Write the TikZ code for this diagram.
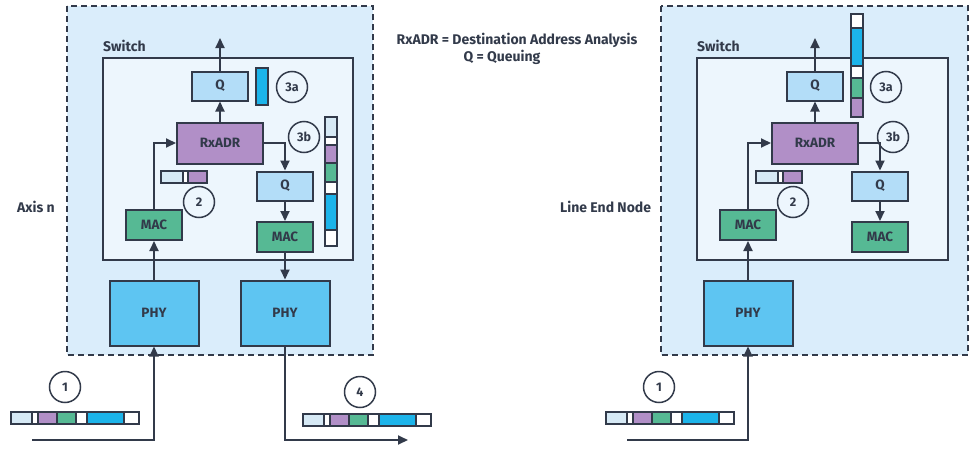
\documentclass[tikz,border=0pt]{standalone}
\usepackage{fontspec}
\setmainfont{Fira Sans}
\usetikzlibrary{arrows.meta}

\definecolor{edge}{HTML}{323A4A}
\definecolor{panel}{HTML}{DAEDFB}
\definecolor{switchbg}{HTML}{EDF6FD}
\definecolor{qcol}{HTML}{B3DDF8}
\definecolor{rxcol}{HTML}{B18FC7}
\definecolor{maccol}{HTML}{56B994}
\definecolor{phycol}{HTML}{5EC5F2}
\definecolor{pkblue}{HTML}{1CB4EA}
\definecolor{pklight}{HTML}{D6E9F5}

\tikzset{
	blk/.style={draw=edge, line width=2pt, inner sep=0pt, font=\fontsize{13.5}{15}\selectfont\bfseries, text=edge},
	qbox/.style={blk, fill=qcol, minimum width=56pt, minimum height=29pt},
	rxbox/.style={blk, fill=rxcol, minimum width=86pt, minimum height=41pt},
	macbox/.style={blk, fill=maccol, minimum width=56pt, minimum height=30pt},
	phybox/.style={blk, fill=phycol, minimum width=89pt, minimum height=65pt},
	num/.style={circle, draw=edge, line width=1.5pt, minimum size=31pt, inner sep=0pt, font=\fontsize{12.5}{14}\selectfont\bfseries, text=edge},
	lbl/.style={font=\fontsize{14}{16}\selectfont\bfseries, text=edge, inner sep=0pt},
	flow/.style={draw=edge, line width=2pt, -{Triangle[length=10pt,width=9pt]}},
	pkseg/.style={draw=edge, line width=1.4pt},
	panelbox/.style={draw=edge, fill=panel, line width=2pt, dash pattern=on 6pt off 4pt},
	switchbox/.style={draw=edge, fill=switchbg, line width=2pt}
}

% packet lying flat, #1 = top left corner
\newcommand\hpacket[1]{%
	\begin{scope}[shift={#1}]
		\foreach \a/\b/\c in {0/21/pklight,21/27/white,27/46/rxcol,46/65/maccol,65/76/white,76/113/pkblue,113/128/white}
			\draw[pkseg, fill=\c] (\a,0) rectangle (\b,12);
	\end{scope}}

\begin{document}
\begin{tikzpicture}[x=1pt, y=-1pt]
	%%%%% START %%%%%
	\useasboundingbox (0,0) rectangle (980,450);
	
	\node[lbl] (legrx) at (517,40) {RxADR = Destination Address Analysis};
	\node[lbl] (legq) at (502,57) {Q = Queuing};
	
	%%%%% Axis n %%%%%
	\draw[panelbox] (67,6) rectangle (373,355);
	\draw[switchbox] (103,58) rectangle (353,260);
	\node[lbl, anchor=south west] (lswitch) at (103,52) {Switch};
	\node[lbl, anchor=west] (laxis) at (17,207) {Axis n};
	
	\node[qbox] (lq1) at (220,86) {Q};
	\node[rxbox] (lrx) at (220,143) {RxADR};
	\node[qbox] (lq2) at (285,186) {Q};
	\node[macbox] (lmac1) at (154,225) {MAC};
	\node[macbox] (lmac2) at (285,237) {MAC};
	\node[phybox] (lphy1) at (154,313) {PHY};
	\node[phybox] (lphy2) at (285,313) {PHY};
	
	\node[num] (l3a) at (292,87) {3a};
	\node[num] (l3b) at (304,137) {3b};
	\node[num] (l2) at (199,202) {2};
	\node[num] (l1) at (65,387) {1};
	\node[num] (l4) at (360,392) {4};
	
	\coordinate (lout) at (220,38);
	\coordinate (lin) at (32,440);
	\coordinate (lexit) at (408,440);
	\draw[flow] (lq1) -- (lout);
	\draw[flow] (lrx) -- (lq1);
	\draw[flow] (lmac1.north) |- (lrx.west);
	\draw[flow] (lrx.east) -| (lq2.north);
	\draw[flow] (lq2) -- (lmac2);
	\draw[flow] (lmac2) -- (lphy2);
	\draw[flow] (lphy1) -- (lmac1);
	\draw[flow] (lin) -| (lphy1.south);
	\draw[flow] (lphy2.south) |- (lexit);
	
	% frames
	\draw[pkseg, fill=pkblue] (256,68) rectangle (268,105);
	\begin{scope}[shift={(325,117)}]
		\foreach \a/\b/\c in {0/20/pklight,20/28/white,28/46/rxcol,46/65/maccol,65/77/white,77/113/pkblue,113/129/white}
			\draw[pkseg, fill=\c] (0,\a) rectangle (12,\b);
	\end{scope}
	\foreach \a/\b/\c in {0/22/pklight,22/27/white,27/46/rxcol}
		\draw[pkseg, fill=\c] (161+\a,171) rectangle (161+\b,183);
	\hpacket{(11,412)}
	\hpacket{(303,414)}
	
	%%%%% Line End Node %%%%%
	\draw[panelbox] (661,6) rectangle (968,355);
	\draw[switchbox] (697,58) rectangle (948,260);
	\node[lbl, anchor=south west] (rswitch) at (697,52) {Switch};
	\node[lbl, anchor=west] (rnode) at (560,207) {Line End Node};
	
	\node[qbox] (rq1) at (815,86) {Q};
	\node[rxbox] (rrx) at (815,143) {RxADR};
	\node[qbox] (rq2) at (880,186) {Q};
	\node[macbox] (rmac1) at (748,225) {MAC};
	\node[macbox] (rmac2) at (880,237) {MAC};
	\node[phybox] (rphy) at (748,313) {PHY};
	
	\node[num] (r3a) at (886,87) {3a};
	\node[num] (r3b) at (893,137) {3b};
	\node[num] (r2) at (793,202) {2};
	\node[num] (r1) at (659,387) {1};
	
	\coordinate (rout) at (815,38);
	\coordinate (rin) at (627,440);
	\draw[flow] (rq1) -- (rout);
	\draw[flow] (rrx) -- (rq1);
	\draw[flow] (rmac1.north) |- (rrx.west);
	\draw[flow] (rrx.east) -| (rq2.north);
	\draw[flow] (rq2) -- (rmac2);
	\draw[flow] (rphy) -- (rmac1);
	\draw[flow] (rin) -| (rphy.south);
	
	% frames
	\begin{scope}[shift={(851,14)}]
		\foreach \a/\b/\c in {0/14/white,14/52/pkblue,52/64/white,64/84/maccol,84/103/rxcol}
			\draw[pkseg, fill=\c] (0,\a) rectangle (12,\b);
	\end{scope}
	\foreach \a/\b/\c in {0/22/pklight,22/27/white,27/46/rxcol}
		\draw[pkseg, fill=\c] (756+\a,171) rectangle (756+\b,183);
	\hpacket{(606,412)}
	
	%%%%% END %%%%%
\end{tikzpicture}
\end{document}
